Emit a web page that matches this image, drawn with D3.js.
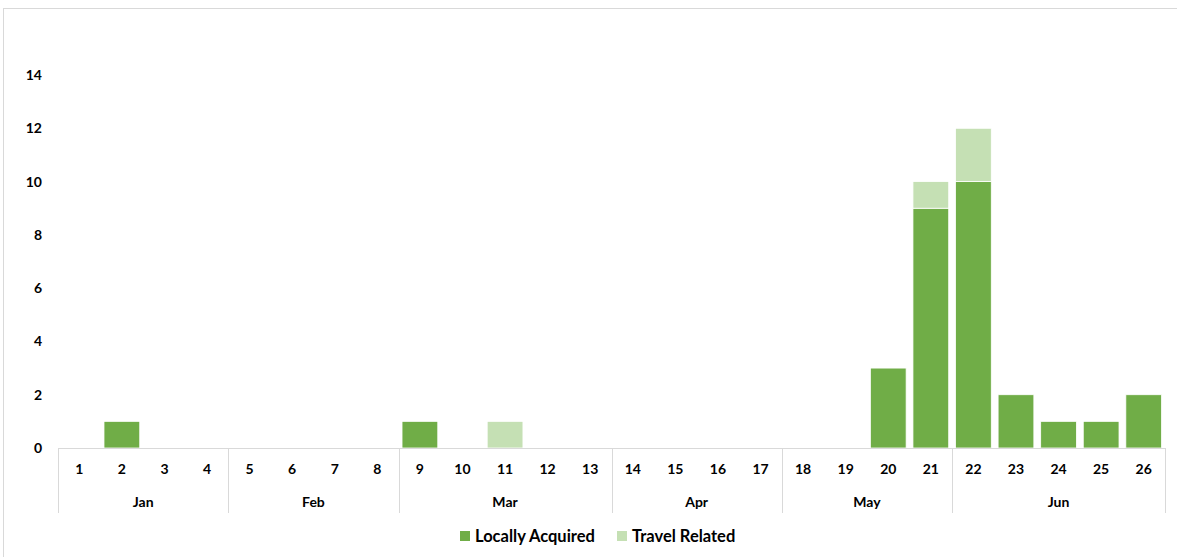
<!DOCTYPE html>
<html>
<head>
<meta charset="utf-8">
<script src="https://cdn.jsdelivr.net/npm/d3@7"></script>
<style>
  body { margin: 0; background: #fff; }
  svg text { font-family: Lato, "Open Sans", sans-serif; fill: #000; }
</style>
</head>
<body>
<svg id="chart" width="1177" height="557"></svg>
<script>

// weeks 1..26, grouped by month
var weeks = d3.range(1, 27).map(String);
var locallyAcquired = [0,1,0,0, 0,0,0,0, 1,0,0,0,0, 0,0,0,0, 0,0,3,9, 10,2,1,1,2];
var travelRelated   = [0,0,0,0, 0,0,0,0, 0,0,1,0,0, 0,0,0,0, 0,0,0,1, 2,0,0,0,0];
var months = ['Jan', 'Feb', 'Mar', 'Apr', 'May', 'Jun'];
var monthFirstWeek = [1, 5, 9, 14, 18, 22];
var yTicks = [0, 2, 4, 6, 8, 10, 12, 14];
var seriesNames = ['Locally Acquired', 'Travel Related'];
var colors = ['#70ad47', '#c5e0b4'];

var svg = d3.select('#chart');

var plotLeft = 58, plotRight = 1165, plotTop = 75, plotBottom = 448;

// chart border
svg.append('rect')
  .attr('x', 3.5).attr('y', 8.5)
  .attr('width', 1180).attr('height', 560)
  .attr('fill', 'none')
  .attr('stroke', '#d9d9d9');

var x = d3.scaleBand()
  .domain(weeks)
  .range([plotLeft, plotRight])
  .paddingInner(0.16)
  .paddingOuter(0.08);

var xEdge = d3.scaleLinear()  // for category boundaries
  .domain([0, weeks.length])
  .range([plotLeft, plotRight]);

var y = d3.scaleLinear()
  .domain([0, 14])
  .range([plotBottom, plotTop]);

// y axis labels only
var yAxis = svg.append('g')
  .attr('transform', 'translate(' + 48 + ',0)')
  .call(d3.axisLeft(y).tickValues(yTicks).tickSize(0).tickPadding(6));
yAxis.select('.domain').remove();
yAxis.selectAll('text')
  .style('font-size', '14px')
  .style('font-weight', 'bold');

// stacked bars
var rows = weeks.map(function(w, i) {
  return { week: w, local: locallyAcquired[i], travel: travelRelated[i] };
});
var stack = d3.stack().keys(['local', 'travel'])(rows);

svg.append('g')
  .selectAll('g')
  .data(stack)
  .enter()
  .append('g')
  .attr('fill', function(d, i) { return colors[i]; })
  .selectAll('rect')
  .data(function(d) { return d.filter(function(p) { return p[1] > p[0]; }); })
  .enter()
  .append('rect')
  .attr('x', function(d) { return x(d.data.week); })
  .attr('y', function(d) { return y(d[1]); })
  .attr('width', x.bandwidth())
  .attr('height', function(d) { return y(d[0]) - y(d[1]); })
  .attr('stroke', '#fff')
  .attr('stroke-width', 0.8);

// x axis line
svg.append('line')
  .attr('x1', plotLeft).attr('x2', plotRight)
  .attr('y1', plotBottom + 0.5).attr('y2', plotBottom + 0.5)
  .attr('stroke', '#d9d9d9');

// month separators
var boundaries = monthFirstWeek.map(function(w) { return w - 1; }).concat([weeks.length]);
svg.append('g')
  .selectAll('line')
  .data(boundaries)
  .enter()
  .append('line')
  .attr('x1', function(d) { return Math.round(xEdge(d)) + 0.5; })
  .attr('x2', function(d) { return Math.round(xEdge(d)) + 0.5; })
  .attr('y1', plotBottom)
  .attr('y2', 513)
  .attr('stroke', '#d9d9d9');

// week labels
svg.append('g')
  .selectAll('text')
  .data(weeks)
  .enter()
  .append('text')
  .attr('x', function(d) { return x(d) + x.bandwidth() / 2; })
  .attr('y', 474)
  .attr('text-anchor', 'middle')
  .style('font-size', '14px')
  .style('font-weight', 'bold')
  .text(function(d) { return d; });

// month labels
svg.append('g')
  .selectAll('text')
  .data(months)
  .enter()
  .append('text')
  .attr('x', function(d, i) {
    return (xEdge(boundaries[i]) + xEdge(boundaries[i + 1])) / 2;
  })
  .attr('y', 507)
  .attr('text-anchor', 'middle')
  .style('font-size', '14px')
  .style('font-weight', 'bold')
  .text(function(d) { return d; });

// legend
var legendX = [460, 617];
var legend = svg.append('g')
  .selectAll('g')
  .data(seriesNames)
  .enter()
  .append('g')
  .attr('transform', function(d, i) { return 'translate(' + legendX[i] + ',531)'; });

legend.append('rect')
  .attr('width', 10).attr('height', 10)
  .attr('fill', function(d, i) { return colors[i]; });

legend.append('text')
  .attr('x', 15)
  .attr('y', 10.5)
  .style('font-size', '16.5px')
  .style('font-weight', 'bold')
  .text(function(d) { return d; });

</script>
</body>
</html>
